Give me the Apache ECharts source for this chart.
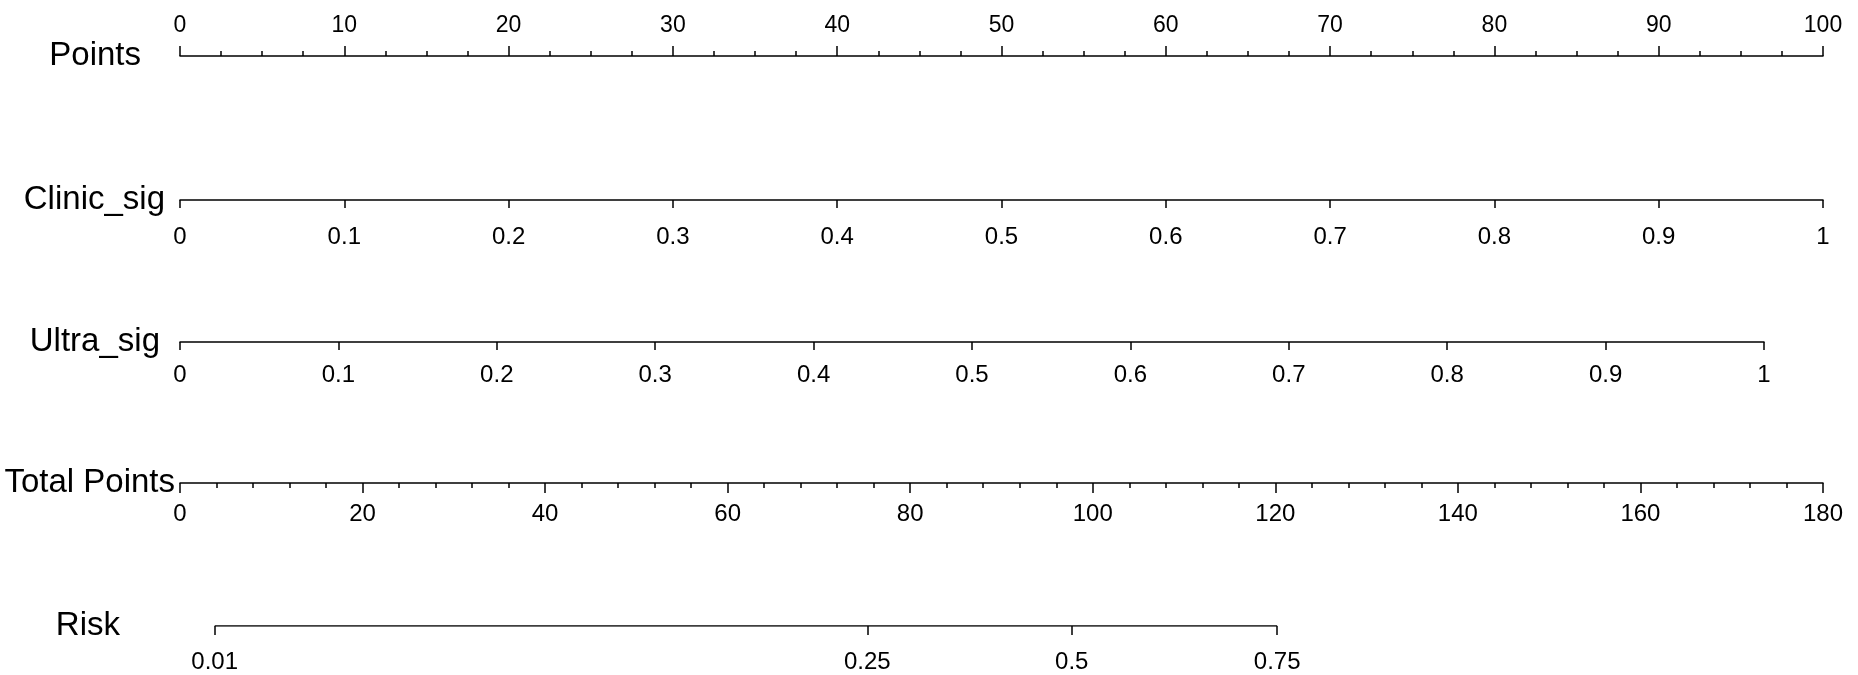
<!DOCTYPE html>
<html>
<head>
<meta charset="utf-8">
<script src="https://cdn.jsdelivr.net/npm/echarts@6/dist/echarts.min.js"></script>
<style>
  html, body { margin: 0; padding: 0; background: #fff; }
  #chart { width: 1858px; height: 675px; }
</style>
</head>
<body>
<div id="chart"></div>
<script>
// nomogram scales
const pointsRange = [0, 100]
const clinicRange = [0, 1]
const ultraRange = [0, 1]
const totalRange = [0, 180]
const riskLabels = ['0.01', '0.25', '0.5', '0.75']
// where each risk value falls on the Total Points scale
const riskTotalPoints = [3.8, 75.3, 97.7, 120.2]

const font = 'Liberation Sans, Arial, Helvetica, sans-serif'
const ink = '#000'

function label(margin, size) {
  return { color: ink, fontSize: size || 24, fontFamily: font, margin: margin }
}

function nameStyle(padding) {
  return { color: ink, fontSize: 33, fontFamily: font, padding: padding }
}

function row(opts) {
  return Object.assign({
    type: 'value',
    splitLine: { show: false },
    axisLine: { show: true, lineStyle: { color: ink, width: 1.5 } },
    axisTick: { show: true, length: 8, lineStyle: { color: ink, width: 1.5 } },
    nameLocation: 'start'
  }, opts)
}

const chart = echarts.init(document.getElementById('chart'))
chart.setOption({
  animation: false,
  backgroundColor: '#fff',
  grid: [
    { left: 180, right: 35, top: 55, height: 1 },
    { left: 180, right: 35, top: 199, height: 1 },
    { left: 180, right: 94, top: 341, height: 1 },
    { left: 180, right: 35, top: 482, height: 1 },
    { left: 180, right: 35, top: 625, height: 1 }
  ],
  xAxis: [
    row({
      gridIndex: 0, position: 'top', name: 'Points', nameGap: 39,
      min: pointsRange[0], max: pointsRange[1], interval: 10,
      axisTick: { show: true, length: 10, lineStyle: { color: ink, width: 1.5 } },
      minorTick: { show: true, splitNumber: 4, length: 5, lineStyle: { color: ink, width: 1.5 } },
      axisLabel: label(18, 23),
      nameTextStyle: nameStyle([0, 0, 14, 0])
    }),
    row({
      gridIndex: 1, name: 'Clinic_sig', nameGap: 15,
      min: clinicRange[0], max: clinicRange[1], interval: 0.1,
      axisLabel: label(25),
      nameTextStyle: nameStyle([0, 0, 4, 0])
    }),
    row({
      gridIndex: 2, name: 'Ultra_sig', nameGap: 20,
      min: ultraRange[0], max: ultraRange[1], interval: 0.1,
      axisLabel: label(21),
      nameTextStyle: nameStyle([0, 0, 8, 0])
    }),
    row({
      gridIndex: 3, name: 'Total Points', nameGap: 5,
      min: totalRange[0], max: totalRange[1], interval: 20,
      axisTick: { show: true, length: 10, lineStyle: { color: ink, width: 1.5 } },
      minorTick: { show: true, splitNumber: 5, length: 5, lineStyle: { color: ink, width: 1.5 } },
      axisLabel: label(19),
      nameTextStyle: nameStyle([0, 0, 10, 0])
    }),
    row({
      gridIndex: 4, name: 'Risk', nameGap: 60,
      min: totalRange[0], max: totalRange[1],
      axisLine: { show: false },
      axisTick: { show: true, length: 9, customValues: riskTotalPoints, lineStyle: { color: ink, width: 1.5 } },
      axisLabel: Object.assign(label(24), {
        customValues: riskTotalPoints,
        formatter: v => riskLabels[riskTotalPoints.indexOf(v)]
      }),
      nameTextStyle: nameStyle([8, 0, 0, 0])
    })
  ],
  yAxis: [0, 1, 2, 3, 4].map(i => ({
    gridIndex: i, type: 'value', min: 0, max: 1, show: false
  })),
  series: [{
    type: 'line',
    xAxisIndex: 4,
    yAxisIndex: 4,
    data: riskTotalPoints.map(v => [v, 0]),
    symbol: 'none',
    silent: true,
    lineStyle: { color: ink, width: 1.5 }
  }]
})
</script>
</body>
</html>
